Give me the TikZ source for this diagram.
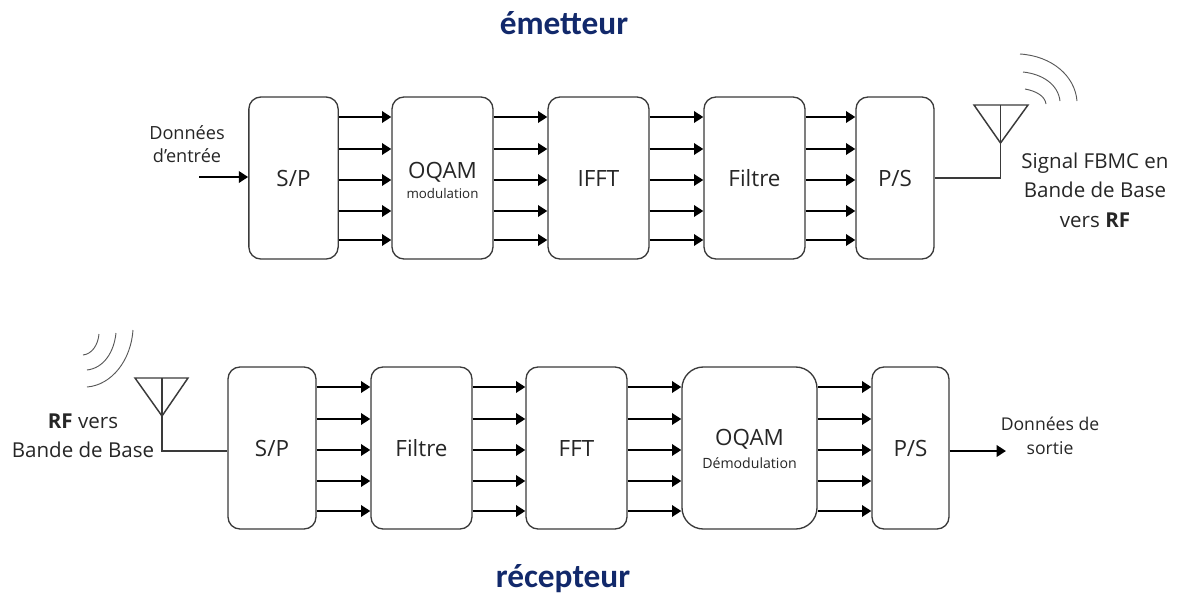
\documentclass[tikz,border=0pt]{standalone}
\usepackage{fontspec}
\setmainfont{Open Sans}
\newfontfamily\titlefont{Carlito}
\usetikzlibrary{arrows.meta}
\definecolor{titleblue}{HTML}{12296B}
\definecolor{boxline}{HTML}{3A3A3A}
\definecolor{txt}{HTML}{262626}
\tikzset{
 x=0.75pt,y=-0.75pt,
 blockbox/.style={draw=boxline,line width=1pt,rounded corners=9pt,inner sep=0pt,fill=white,text=txt,font=\fontsize{16.8}{20}\selectfont},
 flow/.style={line width=1.9pt,black,-{Triangle[length=7pt,width=8.5pt]}},
 thinwire/.style={draw=boxline,line width=1.1pt},
 wave/.style={draw=black!65,line width=0.7pt},
 label/.style={text=txt,align=center,inner sep=0pt},
 heading/.style={text=titleblue,inner sep=0pt,font=\titlefont\bfseries\fontsize{25}{28}\selectfont},
}
\begin{document}
\begin{tikzpicture}
\useasboundingbox (0,0) rectangle (1179,594);
% emitter
\node[heading] (t1) at (564,23) {émetteur};
\node[blockbox,minimum width=67pt,minimum height=121.5pt] (a1) at (293.5,178) {S/P};
\node[blockbox,minimum width=75.75pt,minimum height=121.5pt,align=center] (a2) at (442.5,178) {};
\node[blockbox,minimum width=75.75pt,minimum height=121.5pt] (a3) at (598.5,178) {IFFT};
\node[blockbox,minimum width=75.75pt,minimum height=121.5pt] (a4) at (754.5,178) {Filtre};
\node[blockbox,minimum width=58.5pt,minimum height=121.5pt] (a5) at (895,178) {P/S};
\node[text=txt,inner sep=0pt,font=\fontsize{16.8}{20}\selectfont] (a2t) at (442.5,172) {OQAM};
\node[text=txt,inner sep=0pt,font=\fontsize{10}{12}\selectfont] (a2s) at (442.5,193) {modulation};
\coordinate (u1) at (0,117);\coordinate (u2) at (0,149);\coordinate (u3) at (0,180);\coordinate (u4) at (0,211);\coordinate (u5) at (0,240);
\foreach \p/\q in {a1/a2,a2/a3,a3/a4,a4/a5}{
 \foreach \r in {u1,u2,u3,u4,u5}{
  \draw[flow] (\p.east |- \r) -- (\q.west |- \r);
 }
}
\node[label,font=\fontsize{13.6}{17}\selectfont] (in) at (187,144) {Données\\d’entrée};
\coordinate (instart) at (199,177);
\draw[flow] (instart) -- (a1.west |- instart);
% emitter antenna
\coordinate (ta) at (974,105);\coordinate (tb) at (1028,105);\coordinate (tc) at (1000.5,143);\coordinate (td) at (1000.5,105);\coordinate (te) at (1000.5,178);
\draw[thinwire,line join=miter] (ta) -- (tb) -- (tc) -- cycle;
\draw[thinwire] (td) -- (te) -- (a5.east |- te);
\draw[wave] (1020,54) .. controls (1052,56) and (1075,76) .. (1077,101);
\draw[wave] (1023,72) .. controls (1042,74) and (1058,84) .. (1060,101);
\draw[wave] (1025,89) .. controls (1036,91) and (1045,96) .. (1046,104);
\node[label,font=\fontsize{15.4}{22}\selectfont] (out1) at (1095,190) {Signal FBMC en\\Bande de Base\\vers \textbf{RF}};
% receiver
\node[blockbox,minimum width=66pt,minimum height=121.5pt] (b1) at (272,448) {S/P};
\node[blockbox,minimum width=75.75pt,minimum height=121.5pt] (b2) at (421.5,448) {Filtre};
\node[blockbox,minimum width=75.75pt,minimum height=121.5pt] (b3) at (576.5,448) {FFT};
\node[blockbox,rounded corners=16pt,minimum width=101.25pt,minimum height=121.5pt] (b4) at (749.5,448) {};
\node[blockbox,minimum width=57.75pt,minimum height=121.5pt] (b5) at (910.5,448) {P/S};
\node[text=txt,inner sep=0pt,font=\fontsize{16.8}{20}\selectfont] (b4t) at (749.5,439) {OQAM};
\node[text=txt,inner sep=0pt,font=\fontsize{10.6}{12}\selectfont] (b4s) at (749.5,463) {Démodulation};
\coordinate (v1) at (0,387);\coordinate (v2) at (0,419);\coordinate (v3) at (0,450);\coordinate (v4) at (0,481);\coordinate (v5) at (0,511);
\foreach \p/\q in {b1/b2,b2/b3,b3/b4,b4/b5}{
 \foreach \r in {v1,v2,v3,v4,v5}{
  \draw[flow] (\p.east |- \r) -- (\q.west |- \r);
 }
}
\node[label,font=\fontsize{15.4}{22}\selectfont] (rf) at (83,436) {\textbf{RF} vers\\Bande de Base};
\coordinate (ra) at (135,378);\coordinate (rb) at (188,378);\coordinate (rc) at (162,416);\coordinate (rd) at (162,378);\coordinate (re) at (162,451);
\draw[thinwire,line join=miter] (ra) -- (rb) -- (rc) -- cycle;
\draw[thinwire] (rd) -- (re) -- (b1.west |- re);
\draw[wave] (133,330) .. controls (131,360) and (112,385) .. (87,387);
\draw[wave] (116,333) .. controls (114,352) and (104,368) .. (87,370);
\draw[wave] (99,334) .. controls (98,345) and (92,354) .. (83,355);
\node[label,font=\fontsize{13.2}{18}\selectfont] (out) at (1050,436) {Données de\\sortie};
\coordinate (outend) at (1006,451);
\draw[flow] (b5.east |- outend) -- (outend);
\node[heading] (t2) at (563,579) {récepteur};
\end{tikzpicture}
\end{document}
